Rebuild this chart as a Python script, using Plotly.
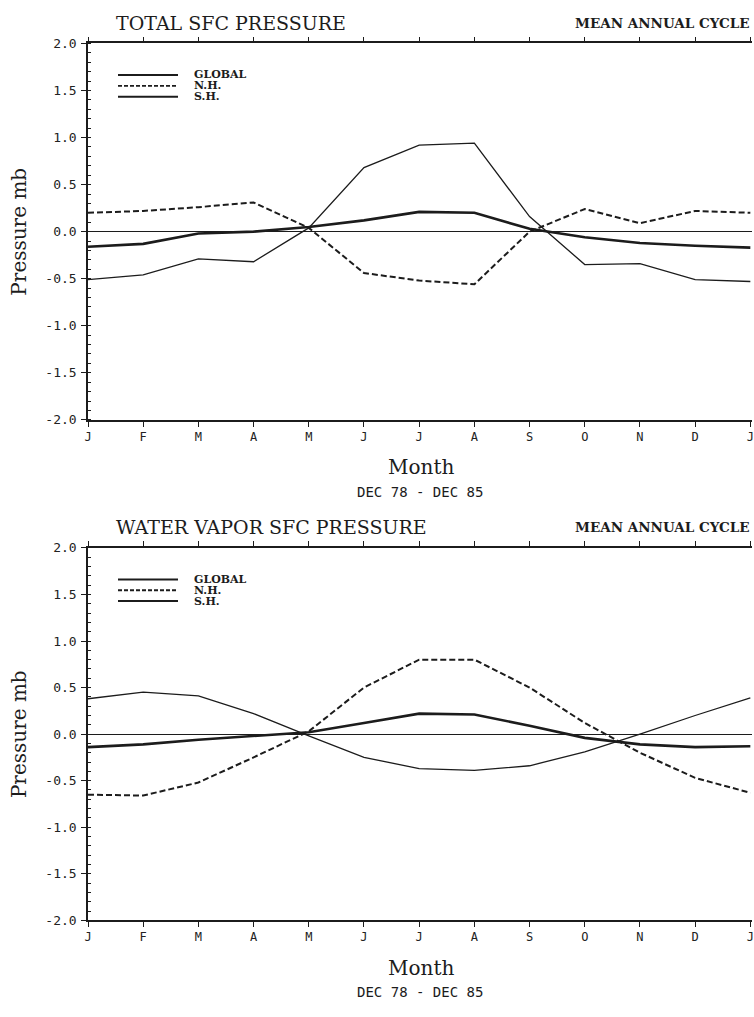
import plotly.graph_objects as go

months = ["J", "F", "M", "A", "M", "J", "J", "A", "S", "O", "N", "D", "J"]
xpos = list(range(13))

# TOTAL SFC PRESSURE (mb)
tot_global = [-0.16, -0.13, -0.02, 0.00, 0.05, 0.12, 0.21, 0.20, 0.03, -0.06, -0.12, -0.15, -0.17]
tot_nh = [0.20, 0.22, 0.26, 0.31, 0.04, -0.44, -0.52, -0.56, 0.00, 0.24, 0.09, 0.22, 0.20]
tot_sh = [-0.51, -0.46, -0.29, -0.32, 0.04, 0.68, 0.92, 0.94, 0.16, -0.35, -0.34, -0.51, -0.53]

# WATER VAPOR SFC PRESSURE (mb)
wv_global = [-0.14, -0.11, -0.06, -0.02, 0.02, 0.12, 0.22, 0.21, 0.09, -0.04, -0.11, -0.14, -0.13]
wv_nh = [-0.65, -0.66, -0.52, -0.25, 0.03, 0.50, 0.80, 0.80, 0.50, 0.12, -0.20, -0.47, -0.63]
wv_sh = [0.38, 0.45, 0.41, 0.22, -0.02, -0.25, -0.37, -0.39, -0.34, -0.19, 0.00, 0.20, 0.39]

titles = ["TOTAL SFC PRESSURE", "WATER VAPOR SFC PRESSURE"]
yticks = [2.0, 1.5, 1.0, 0.5, 0.0, -0.5, -1.0, -1.5, -2.0]
ytext = ["2.0", "1.5", "1.0", "0.5", "0.0", "-0.5", "-1.0", "-1.5", "-2.0"]
legend_names = ["GLOBAL", "N.H.", "S.H."]

W, H = 754, 1017
L, R = 88, 2
INK = "#1c1c1c"
SERIF = "DejaVu Serif"
MONO = "DejaVu Sans Mono"

fig = go.Figure()

panels = [
    dict(data=[tot_global, tot_nh, tot_sh], top=37, bottom=419, xa="x", ya="y"),
    dict(data=[wv_global, wv_nh, wv_sh], top=549, bottom=927, xa="x2", ya="y2"),
]

styles = [
    dict(width=2.6, dash="solid"),
    dict(width=2.0, dash="6px,3px"),
    dict(width=1.3, dash="solid"),
]

def py(p):
    return 1 - p / H

def px(p):
    return (p - L) / (W - L - R)

for i, p in enumerate(panels):
    for s, (vals, st) in enumerate(zip(p["data"], styles)):
        fig.add_trace(go.Scatter(
            x=xpos, y=vals, mode="lines", xaxis=p["xa"], yaxis=p["ya"],
            line=dict(color=INK, width=st["width"], dash=st["dash"]),
            showlegend=False, name=legend_names[s]))
    sfx = "" if i == 0 else str(i + 1)
    dom = [py(p["bottom"]), py(p["top"])]
    fig.layout["xaxis" + sfx] = dict(
        domain=[0, 1], range=[0, 12.03], anchor="y" + sfx,
        tickvals=xpos, ticktext=months, ticks="outside", ticklen=5,
        tickwidth=1, tickcolor=INK, showline=True, linecolor=INK, linewidth=1.5,
        mirror="ticks", showgrid=False, zeroline=False,
        tickfont=dict(family=MONO, size=12, color="#222222"),
        fixedrange=True)
    fig.layout["yaxis" + sfx] = dict(
        domain=dom, range=[-2.0, 2.0], anchor="x" + sfx,
        tickvals=yticks, ticktext=ytext, ticks="outside", ticklen=5,
        tickwidth=1, tickcolor=INK, showline=True, linecolor=INK, linewidth=1.5,
        showgrid=False, zeroline=True, zerolinecolor=INK, zerolinewidth=1.4,
        minor=dict(dtick=0.1, ticks="inside", ticklen=3, tickcolor=INK, showgrid=False),
        tickfont=dict(family=MONO, size=13, color="#222222"),
        ticklabelstandoff=2, fixedrange=True)

    # titles
    fig.add_annotation(text=titles[i], xref="paper", yref="paper",
                       x=px(114), y=py(p["top"] - 21),
                       xanchor="left", yanchor="middle", showarrow=False,
                       font=dict(family=SERIF, size=19, color=INK))
    fig.add_annotation(text="<b>MEAN ANNUAL CYCLE</b>", xref="paper", yref="paper",
                       x=px(752), y=py(p["top"] - 21), xanchor="right", yanchor="middle",
                       showarrow=False,
                       font=dict(family=SERIF, size=13.5, color=INK))
    fig.add_annotation(text="Pressure mb", xref="paper", yref="paper",
                       x=px(19), y=py((p["top"] + p["bottom"]) / 2),
                       xanchor="center", yanchor="middle", textangle=-90, showarrow=False,
                       font=dict(family=SERIF, size=20, color=INK))
    fig.add_annotation(text="Month", xref="paper", yref="paper",
                       x=px(421), y=py(p["bottom"] + 48),
                       xanchor="center", yanchor="middle", showarrow=False,
                       font=dict(family=SERIF, size=20, color=INK))
    fig.add_annotation(text="DEC 78 - DEC 85", xref="paper", yref="paper",
                       x=px(420), y=py(p["bottom"] + 73),
                       xanchor="center", yanchor="middle", showarrow=False,
                       font=dict(family=MONO, size=14, color=INK))

    # legend (drawn in axis-domain coordinates)
    span = p["bottom"] - p["top"]
    for k, (name, st) in enumerate(zip(legend_names, styles)):
        ypix = p["top"] + 32 + 11 * k
        yd = (p["bottom"] - ypix) / span
        fig.add_shape(type="line", xref=p["xa"] + " domain", yref=p["ya"] + " domain",
                      x0=px(118), x1=px(178), y0=yd, y1=yd,
                      line=dict(color=INK, width=2.0 if k != 1 else 1.8,
                                dash="solid" if k != 1 else "4px,2px"))
        fig.add_annotation(text="<b>" + name + "</b>", xref=p["xa"] + " domain",
                           yref=p["ya"] + " domain",
                           x=px(192), y=yd, xanchor="left",
                           yanchor="middle", showarrow=False,
                           font=dict(family=SERIF, size=11, color=INK))

fig.update_layout(width=W, height=H, margin=dict(l=L, r=R, t=0, b=0),
                  paper_bgcolor="white", plot_bgcolor="white", showlegend=False)

fig.write_html("out.html")
